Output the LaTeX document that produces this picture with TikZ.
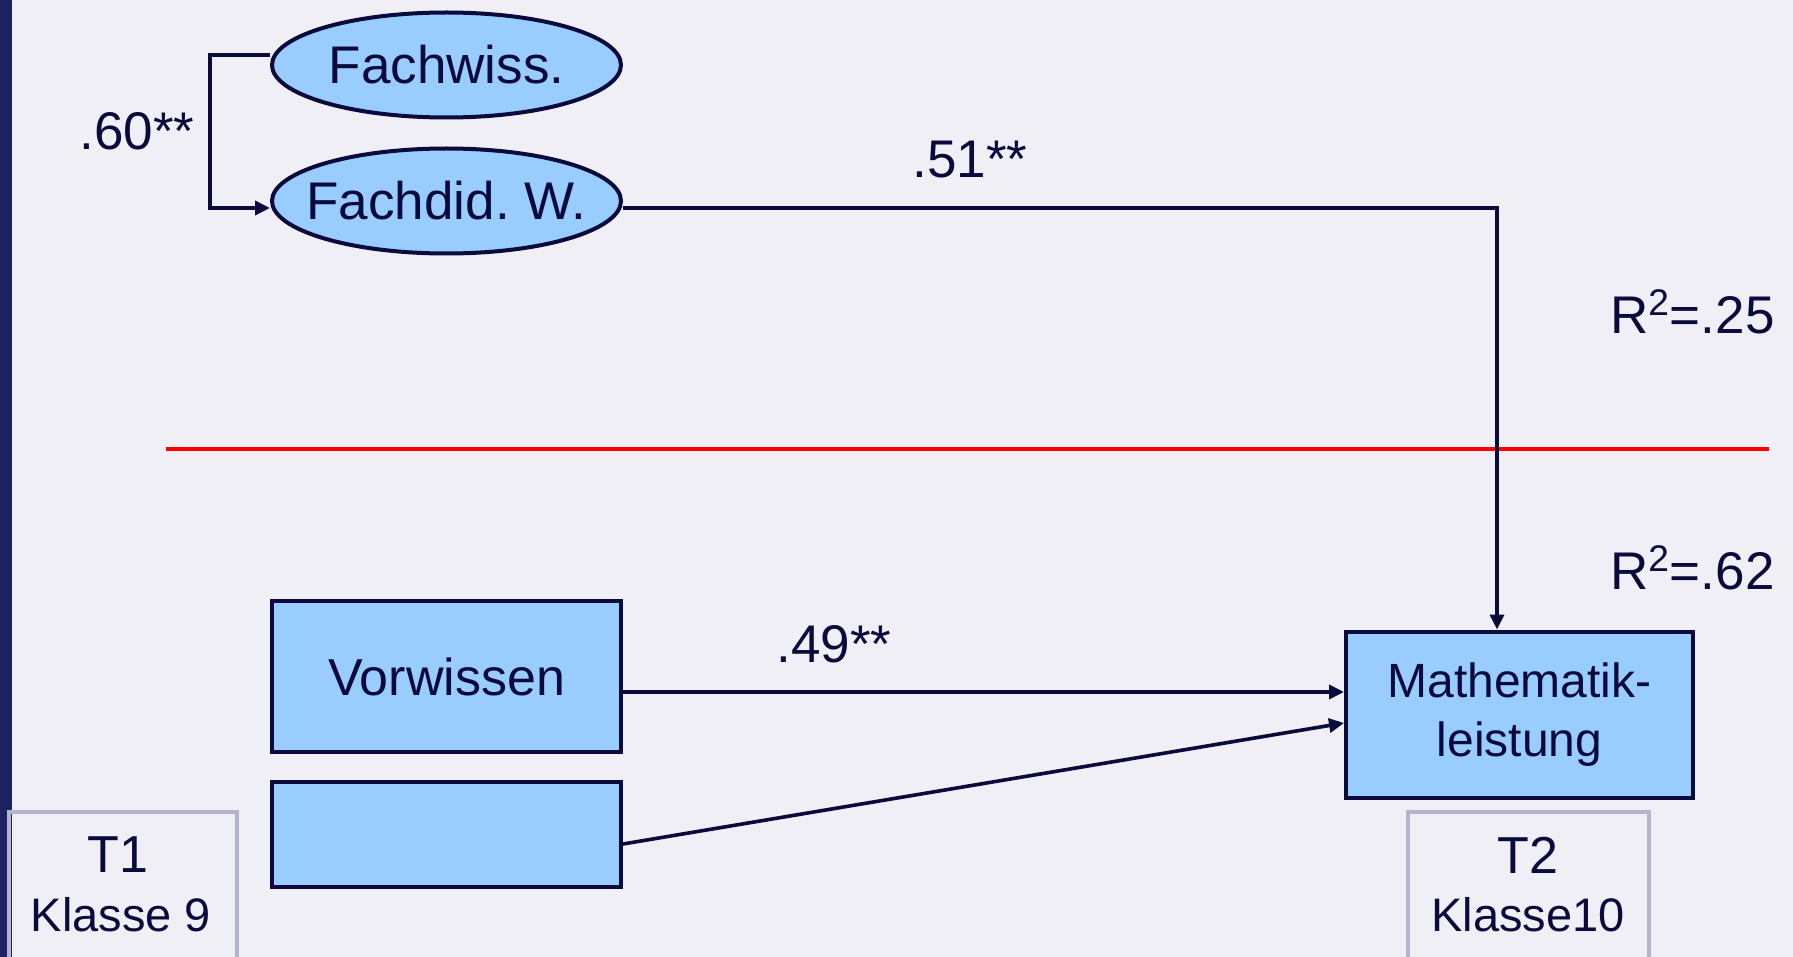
\documentclass[tikz,border=0pt]{standalone}
\usepackage{fontspec}
\setmainfont{Liberation Sans}
\usetikzlibrary{shapes.geometric,arrows.meta}
\definecolor{bgc}{HTML}{EFEFF5}
\definecolor{barc}{HTML}{1B2461}
\definecolor{fillc}{HTML}{99CCFF}
\definecolor{inkc}{HTML}{0A0A3C}
\definecolor{tboxc}{HTML}{B4B4CF}
\tikzset{
  lat/.style={ellipse,draw=inkc,line width=2pt,fill=fillc,minimum width=174.5pt,minimum height=52.5pt,inner xsep=-30pt,inner ysep=-10pt,font=\fontsize{26.5}{30}\selectfont,text=inkc},
  mbox/.style={rectangle,draw=inkc,line width=2pt,fill=fillc,inner sep=0pt,text=inkc},
  conn/.style={draw=inkc,line width=1.8pt,-{Triangle[length=7.5pt,width=7pt]}},
  lbl/.style={text=inkc,font=\fontsize{26.5}{30}\selectfont,inner sep=0pt},
  tbox/.style={rectangle,draw=tboxc,line width=1.7pt,inner sep=0pt},
  tlbl/.style={text=inkc,inner sep=0pt}
}
\begin{document}
\begin{tikzpicture}[x=0.5pt,y=-0.5pt]
\clip (0,0) rectangle (1793,957);
\fill[bgc] (0,0) rectangle (1793,957);
\fill[barc] (0,0) rectangle (12,957);
% T boxes
\node[tbox,minimum width=114pt,minimum height=90pt] (t1box) at (123,902) {};
\node[tbox,minimum width=120.5pt,minimum height=90pt] (t2box) at (1528.5,902) {};
\node[tlbl,font=\fontsize{26}{30}\selectfont] (t1) at (118,855) {T1};
\node[tlbl,font=\fontsize{23.5}{28}\selectfont] (k9) at (121,915) {Klasse 9};
\node[tlbl,font=\fontsize{26}{30}\selectfont] (t2) at (1528,855) {T2};
\node[tlbl,font=\fontsize{23.5}{28}\selectfont] (k10) at (1528,915) {Klasse10};
% red line
\coordinate (rl) at (166,449);
\coordinate (rr) at (1769,449);
\draw[red,line width=2pt] (rl) -- (rr);
% latent nodes
\node[lat] (fw) at (446.5,65) {Fachwiss.};
\node[lat] (fd) at (446.5,201) {Fachdid.\ W.};
% boxes
\node[mbox,minimum width=174.5pt,minimum height=75.5pt,font=\fontsize{26}{30}\selectfont] (vw) at (446.5,676.5) {Vorwissen};
\node[mbox,minimum width=174.5pt,minimum height=52.5pt] (em) at (446.5,834.5) {};
\node[mbox,minimum width=173.5pt,minimum height=83pt,align=center,font=\fontsize{24}{29.5}\selectfont] (math) at (1519.5,714.5) {Mathematik-\\leistung};
% connectors
\draw[conn] ([yshift=5pt]fw.west) -- ++(-60,0) |- ([yshift=-3.5pt]fd.west);
\coordinate (bend) at (1497,208);
\draw[conn] ([yshift=-3.5pt]fd.east) -- (bend) -- (bend |- math.north);
\draw[conn] ([yshift=-7.75pt]vw.east) -- ([yshift=-7.75pt]vw.east -| math.west);
\draw[conn] ([yshift=-4.75pt]em.east) -- ([yshift=-4.25pt]math.west);
% labels
\node[lbl] (l60) at (137,131) {.60**};
\node[lbl] (l51) at (970,160) {.51**};
\node[lbl] (l49) at (834,644) {.49**};
\node[lbl,anchor=east] (r25) at (1775,312) {R\textsuperscript{2}=.25};
\node[lbl,anchor=east] (r62) at (1775,568) {R\textsuperscript{2}=.62};
\end{tikzpicture}
\end{document}
